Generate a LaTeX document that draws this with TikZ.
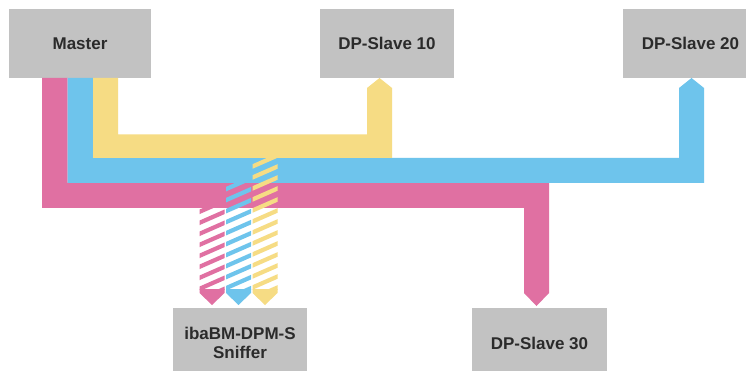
\documentclass[tikz,border=0pt]{standalone}
\usepackage{fontspec}
\setmainfont{Liberation Sans}
\definecolor{cpink}{HTML}{E070A2}
\definecolor{cblue}{HTML}{6EC4EC}
\definecolor{cyellow}{HTML}{F6DC84}
\definecolor{cgray}{HTML}{C2C2C2}
\definecolor{ctext}{HTML}{2B2B2B}
\begin{document}
\begin{tikzpicture}[x=1pt,y=-1pt,
  box/.style={fill=cgray, inner sep=0pt, text=ctext, align=center,
    font=\bfseries\fontsize{17}{19.5}\selectfont},
  stripe/.style={line width=4.2pt}]
\useasboundingbox (0,0) rectangle (746,371);
\clip (0,0) rectangle (746,371);
\fill[white] (0,0) rectangle (746,371);
% boxes
\node[box, minimum width=142pt, minimum height=69pt] (master) at (80,43.5) {Master};
\node[box, minimum width=134pt, minimum height=69pt] (s10) at (387,43.5) {DP-Slave 10};
\node[box, minimum width=135pt, minimum height=69pt] (s20) at (690.5,43.5) {DP-Slave 20};
\node[box, minimum width=135pt, minimum height=70pt] (s30) at (539.5,343) {DP-Slave 30};
\node[box, minimum width=134pt, minimum height=70pt] (sniff) at (240,343) {ibaBM-DPM-S\\Sniffer};
% tips
\coordinate (t10) at (379.5,78);
\coordinate (t20) at (691.5,78);
\coordinate (t30) at (536.5,306);
% bands
\fill[cpink] (42,78) -- (67.5,78) -- (67.5,183) -- (549,183) -- (549,293) -- (t30) -- (524,293) -- (524,208) -- (42,208) -- cycle;
\fill[cblue] (67.5,78) -- (93,78) -- (93,158) -- (679,158) -- (679,88) -- (t20) -- (704,88) -- (704,183) -- (67.5,183) -- cycle;
\fill[cyellow] (93,78) -- (118,78) -- (118,134.5) -- (367,134.5) -- (367,88) -- (t10) -- (392,88) -- (392,158) -- (93,158) -- cycle;
% hatched sniffer taps
\foreach \col/\xa/\yt in {cpink/199.5/208, cblue/226/183, cyellow/252.5/158}{
  \begin{scope}
    \clip (\xa,\yt) rectangle ({\xa+25},289);
    \foreach \c in {150,161,...,360}
      \draw[stripe, \col] (190,\c) -- (290,{\c-44});
  \end{scope}
  \fill[\col] (\xa,289) -- ({\xa+25},289) -- ({\xa+25},293) -- ({\xa+12.5},305) -- (\xa,293) -- cycle;
}
\end{tikzpicture}
\end{document}
